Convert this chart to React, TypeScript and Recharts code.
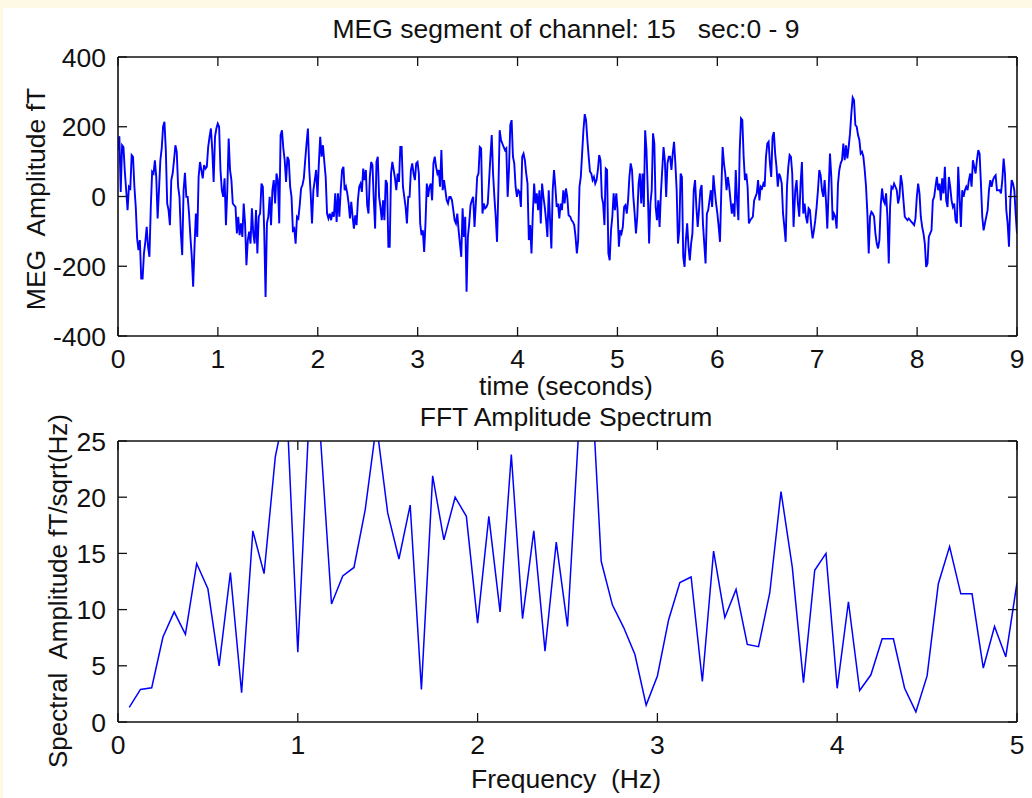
import React from 'react';
import { LineChart, Line, XAxis, YAxis } from 'recharts';

// ---- MEG time series (fT), four traced segments ----
const megSeg1 = [133,173,13,147,142,71,18,-39,28,23,119,114,28,-30,-120,-154,-125,-235,-235,-163,-130,-87,-144,-173,-30,71,66,104,56,-63,18,104,138,200,214,133,-20,-39,-82,47,66,104,147,128,28,-1,-106,-168,18,68,-1,-1,-49,-116,-173,-259,-144,-49,-116,56,99,76,52,90,80,85,142,171,195,133,42,171,195,209,200,76,18,-1,52,-82,18,166,76,47,-20,-25,-30,-106,-58,-111,-77,-116,-20,-77,-197,-125,-101,-135,-34,-106,-135,-39,-163,-58,-49,37,28,-97,-288,-77,-58,-1,-82,18,47,-20,66,47,-77,176,190,138,104,42,114,104,28,-1,-97,-92,-135,-58,-63,-25,23,33,52,104,152,195,76,9,-77,18,47,76,-1,95,171,114,147,99,56,-49,-63,-49,-68,-44,-58,9,-73,9,-58,18,76,85];
const megSeg2 = [18,28,9,-20,-63,-15,-58,-92,-54,-82,-11,28,37,13,80,47,76,-25,-49,56,99,90,-11,-92,99,114,-1,-30,-68,-11,-68,47,37,-144,-144,66,99,76,52,18,66,42,142,142,28,-1,-30,-77,-1,-1,76,95,66,47,95,99,66,-77,-111,-97,-159,-77,37,-1,28,37,-11,95,114,85,66,76,28,133,18,47,18,-11,-20,-1,-1,-11,-39,-68,-77,-49,-97,-135,-173,-34,-116,-58,-273,-116,-77,-25,-11,-1,-87,-20,56,66,142,138,-49,-20,-34,-30,-20,47,114,176,66,-1,-58,-130,18,190,162,152,142,133,138,-1,76,205,219,114,95,28,-1,18,13,-30,114,123,104,66,37,-125,-82,-163,-49,37,-20,9,-39,18,-77,37,-1,-30,-68,-116,18,-68,-149,18,76,28,-30,-20,-63,-20,-39,18,-20,23,-1,-54];
const megSeg3 = [-58,-68,-73,-82,-116,-163,-125,28,56,123,190,236,219,162,114,71,66,47,56,37,47,76,119,104,-1,-20,-82,80,76,-163,-183,-97,-58,9,-39,9,-39,-144,-97,-106,-87,-30,-25,-49,-11,56,95,76,-1,-49,-106,-58,37,66,-20,66,-30,190,133,18,-135,-20,18,181,152,-30,-68,-11,-87,9,76,142,104,-1,95,114,114,76,123,157,95,18,-135,-97,66,56,-173,-202,-125,-77,-144,-183,-135,-106,18,47,-30,-87,-39,18,33,-77,-135,-192,-49,-39,-11,18,-30,61,18,-20,-49,-87,-130,18,142,95,66,18,56,28,-11,-49,-20,-58,76,-11,-68,133,224,219,114,47,66,28,-77,-68,-63,-58,-11,-1,9,47,-11,28,23,37,28,114,152,157,95,56,171,185,123,85,28,66,56,37,-49,-87,-130,28,85,119,114,66,-87];
const megSeg4 = [18,47,-20,-58,37,99,-49,-20,-58,-77,-34,-39,-87,-120,-97,-68,-30,18,76,61,18,-1,47,-11,-92,18,123,56,-68,-49,-58,-92,37,76,95,104,152,104,147,109,142,181,238,284,276,205,200,176,162,123,128,114,76,28,-49,-163,-58,-44,-49,-58,-106,-135,-149,-125,-25,23,-11,-20,9,-58,-192,-30,28,23,37,28,18,-20,-1,61,37,-11,-58,-63,-68,-63,-68,-73,-77,-82,-63,-1,37,9,-58,-87,-106,-135,-202,-192,-116,-106,-97,-11,-1,28,56,18,37,-11,52,9,85,-11,-30,56,28,-11,-30,-20,-68,-77,85,-1,-87,18,-1,18,28,18,47,66,28,104,85,66,104,133,123,37,-58,-97,-77,-58,-39,18,47,28,47,56,61,18,18,18,9,47,109,66,-39,-77,-144,-11,47,37,18,-49,-106];
// start / end time (s) of each traced segment
const megSegStart = [0, 2.269, 4.528, 6.78];
const megSegEnd = [2.257, 4.511, 6.763, 9.0];

const megTimeTicks = [0, 1, 2, 3, 4, 5, 6, 7, 8, 9];
const megAmpTicks = [-400, -200, 0, 200, 400];

// ---- FFT amplitude spectrum ----
const fftFreq = [0.0625,0.125,0.1875,0.25,0.3125,0.375,0.4375,0.5,0.5625,0.625,0.6875,0.75,0.8125,0.875,0.9375,1,1.0625,1.125,1.1875,1.25,1.3125,1.375,1.4375,1.5,1.5625,1.625,1.6875,1.75,1.8125,1.875,1.9375,2,2.0625,2.125,2.1875,2.25,2.3125,2.375,2.4375,2.5,2.5625,2.625,2.6875,2.75,2.8125,2.875,2.9375,3,3.0625,3.125,3.1875,3.25,3.3125,3.375,3.4375,3.5,3.5625,3.625,3.6875,3.75,3.8125,3.875,3.9375,4,4.0625,4.125,4.1875,4.25,4.3125,4.375,4.4375,4.5,4.5625,4.625,4.6875,4.75,4.8125,4.875,4.9375,5];
const fftAmp = [1.3,2.9,3.05,7.56,9.8,7.8,14.1,11.85,5.0,13.3,2.6,17.0,13.2,23.6,28.5,6.2,27,25.6,10.5,13.0,13.75,18.9,26.5,18.6,14.5,19.3,2.9,21.9,16.2,20.0,18.3,8.8,18.3,9.8,23.8,9.2,17.0,6.3,16.0,8.5,26,33,14.3,10.4,8.4,6.0,1.5,4.1,9.1,12.4,12.9,3.6,15.2,9.3,11.8,6.9,6.7,11.5,20.5,13.8,3.5,13.5,15.0,3.0,10.7,2.8,4.2,7.4,7.4,3.0,0.9,4.1,12.3,15.6,11.4,11.4,4.8,8.5,5.8,12.4];
const fftFreqTicks = [0, 1, 2, 3, 4, 5];
const fftAmpTicks = [0, 5, 10, 15, 20, 25];

const megData: { t: number; v: number }[] = [];
[megSeg1, megSeg2, megSeg3, megSeg4].forEach((seg, s) => {
  const a = megSegStart[s];
  const b = megSegEnd[s];
  seg.forEach((v, i) => megData.push({ t: a + ((b - a) * i) / (seg.length - 1), v }));
});
const fftData = fftFreq.map((f, i) => ({ f, a: fftAmp[i] }));

const FONT = '"Liberation Sans", Arial, Helvetica, sans-serif';
const FS = 26.5;
const TL = 9;
const INK = '#111';
const BLUE = '#0000ff';

type Side = 'bottom' | 'top' | 'left' | 'right';
const makeTick = (side: Side, showLabel: boolean) => (props: any) => {
  const { x, y, payload } = props;
  let line;
  if (side === 'bottom') line = <line x1={x} y1={y} x2={x} y2={y - TL} stroke={INK} strokeWidth={1.3} />;
  else if (side === 'top') line = <line x1={x} y1={y} x2={x} y2={y + TL} stroke={INK} strokeWidth={1.3} />;
  else if (side === 'left') line = <line x1={x} y1={y} x2={x + TL} y2={y} stroke={INK} strokeWidth={1.3} />;
  else line = <line x1={x} y1={y} x2={x - TL} y2={y} stroke={INK} strokeWidth={1.3} />;
  let label = null;
  if (showLabel && side === 'bottom')
    label = (
      <text x={x} y={y + 32} textAnchor="middle" fontFamily={FONT} fontSize={FS} fill={INK}>
        {payload.value}
      </text>
    );
  if (showLabel && side === 'left')
    label = (
      <text x={x - 12} y={y + 9.5} textAnchor="end" fontFamily={FONT} fontSize={FS} fill={INK}>
        {payload.value}
      </text>
    );
  return (
    <g>
      {line}
      {label}
    </g>
  );
};

const axisLine = { stroke: INK, strokeWidth: 1.6 };

const textStyle: React.CSSProperties = {
  position: 'absolute',
  fontFamily: FONT,
  fontSize: FS,
  color: INK,
  whiteSpace: 'pre',
  lineHeight: 1,
  transform: 'translate(-50%, -50%)',
};
const rotStyle: React.CSSProperties = {
  ...textStyle,
  transform: 'translate(-50%, -50%) rotate(-90deg)',
};

export default function App() {
  return (
    <div style={{ position: 'absolute', left: 0, top: 0, width: 1032, height: 798, background: '#fdf9e4', overflow: 'hidden' }}>
      <div style={{ position: 'absolute', left: 3, top: 8, width: 1029, height: 790, background: '#ffffff' }} />

      <div style={{ position: 'absolute', left: 0, top: 0 }}>
        <LineChart width={1032} height={400} data={megData} margin={{ top: 0, right: 0, bottom: 0, left: 0 }}>
          <XAxis dataKey="t" type="number" domain={[0, 9]} ticks={megTimeTicks} interval={0} height={64}
            axisLine={axisLine} tickLine={false} tickSize={0} tickMargin={0} tick={makeTick('bottom', true)} allowDataOverflow />
          <XAxis xAxisId="top" dataKey="t" orientation="top" type="number" domain={[0, 9]} ticks={megTimeTicks} interval={0} height={57}
            axisLine={axisLine} tickLine={false} tickSize={0} tickMargin={0} tick={makeTick('top', false)} allowDataOverflow />
          <YAxis dataKey="v" type="number" domain={[-400, 400]} ticks={megAmpTicks} interval={0} width={118}
            axisLine={axisLine} tickLine={false} tickSize={0} tickMargin={0} tick={makeTick('left', true)} allowDataOverflow />
          <YAxis yAxisId="right" dataKey="v" orientation="right" type="number" domain={[-400, 400]} ticks={megAmpTicks} interval={0} width={15}
            axisLine={axisLine} tickLine={false} tickSize={0} tickMargin={0} tick={makeTick('right', false)} allowDataOverflow />
          <Line dataKey="v" type="linear" stroke={BLUE} strokeWidth={1.9} dot={false} isAnimationActive={false} />
        </LineChart>
      </div>

      <div style={{ position: 'absolute', left: 0, top: 400 }}>
        <LineChart width={1032} height={398} data={fftData} margin={{ top: 0, right: 0, bottom: 0, left: 0 }}>
          <XAxis dataKey="f" type="number" domain={[0, 5]} ticks={fftFreqTicks} interval={0} height={76}
            axisLine={axisLine} tickLine={false} tickSize={0} tickMargin={0} tick={makeTick('bottom', true)} allowDataOverflow />
          <XAxis xAxisId="top" dataKey="f" orientation="top" type="number" domain={[0, 5]} ticks={fftFreqTicks} interval={0} height={41}
            axisLine={axisLine} tickLine={false} tickSize={0} tickMargin={0} tick={makeTick('top', false)} allowDataOverflow />
          <YAxis dataKey="a" type="number" domain={[0, 25]} ticks={fftAmpTicks} interval={0} width={118}
            axisLine={axisLine} tickLine={false} tickSize={0} tickMargin={0} tick={makeTick('left', true)} allowDataOverflow />
          <YAxis yAxisId="right" dataKey="a" orientation="right" type="number" domain={[0, 25]} ticks={fftAmpTicks} interval={0} width={15}
            axisLine={axisLine} tickLine={false} tickSize={0} tickMargin={0} tick={makeTick('right', false)} allowDataOverflow />
          <Line dataKey="a" type="linear" stroke={BLUE} strokeWidth={1.5} dot={false} isAnimationActive={false} />
        </LineChart>
      </div>

      <div style={{ ...textStyle, left: 566, top: 29 }}>{'MEG segment of channel: 15   sec:0 - 9'}</div>
      <div style={{ ...textStyle, left: 566, top: 387, lineHeight: 0.95 }}>time (seconds)</div>
      <div style={{ ...rotStyle, left: 36, top: 199 }}>{'MEG  Amplitude fT'}</div>

      <div style={{ ...textStyle, left: 566, top: 418, lineHeight: 0.95 }}>FFT Amplitude Spectrum</div>
      <div style={{ ...textStyle, left: 566, top: 779 }}>{'Frequency  (Hz)'}</div>
      <div style={{ ...rotStyle, left: 58, top: 591, fontSize: 26 }}>{'Spectral  Amplitude fT/sqrt(Hz)'}</div>
    </div>
  );
}
